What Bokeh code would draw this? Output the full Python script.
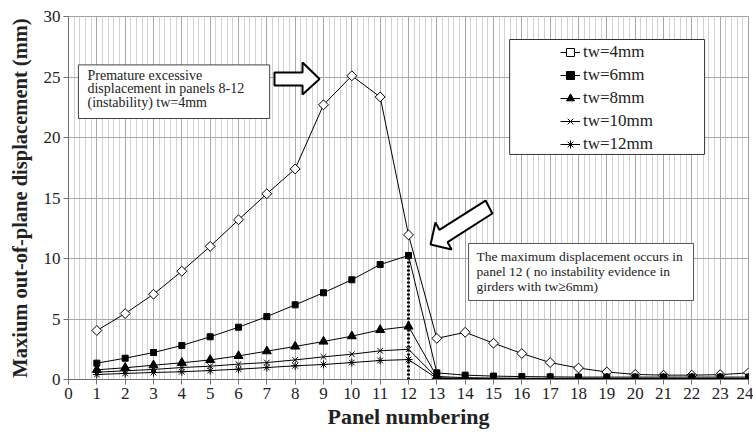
import math
from bokeh.plotting import figure
from bokeh.models import (FixedTicker, Legend, LegendItem, Label, PolyAnnotation,
                          BoxAnnotation, Range1d)
from bokeh.embed import file_html
from bokeh.resources import INLINE

# ---------------- data ----------------
panels = list(range(1, 25))
x_ticks = list(range(0, 25))
y_ticks = [0, 5, 10, 15, 20, 25, 30]

tw4 = [4.05, 5.45, 7.05, 8.95, 11.0, 13.2, 15.35, 17.4, 22.7, 25.1, 23.35, 11.95,
       3.4, 3.9, 3.0, 2.15, 1.4, 0.95, 0.62, 0.42, 0.36, 0.36, 0.4, 0.55]
tw6 = [1.35, 1.76, 2.23, 2.81, 3.53, 4.32, 5.2, 6.17, 7.17, 8.24, 9.5, 10.25,
       0.55, 0.36, 0.28, 0.24, 0.22, 0.2, 0.2, 0.2, 0.2, 0.2, 0.2, 0.2]
tw8 = [0.8, 0.97, 1.18, 1.38, 1.62, 1.95, 2.34, 2.73, 3.14, 3.58, 4.1, 4.38,
       0.25, 0.15, 0.12, 0.1, 0.1, 0.1, 0.1, 0.1, 0.1, 0.1, 0.1, 0.1]
tw10 = [0.6, 0.72, 0.83, 0.99, 1.1, 1.27, 1.4, 1.62, 1.87, 2.09, 2.37, 2.5,
        0.15, 0.08, 0.07, 0.06, 0.06, 0.06, 0.06, 0.06, 0.06, 0.06, 0.06, 0.06]
tw12 = [0.41, 0.5, 0.58, 0.64, 0.74, 0.85, 0.99, 1.13, 1.24, 1.4, 1.57, 1.65,
        0.1, 0.05, 0.04, 0.04, 0.04, 0.04, 0.04, 0.04, 0.04, 0.04, 0.04, 0.04]
series_labels = ["tw=4mm", "tw=6mm", "tw=8mm", "tw=10mm", "tw=12mm"]

note1 = ["Premature excessive", "displacement in panels 8-12", "(instability) tw=4mm"]
note2 = ["The maximum displacement occurs in", "panel 12 ( no instability evidence in",
         "girders with tw\u22656mm)"]

SERIF = "'Liberation Serif', 'Times New Roman', serif"

p = figure(width=753, height=435, output_backend="svg", toolbar_location=None,
           x_range=Range1d(0, 24), y_range=Range1d(0, 30),
           min_border_left=68, min_border_right=5, min_border_top=16, min_border_bottom=56)
p.background_fill_color = "white"
p.border_fill_color = "white"
p.outline_line_color = "#a0a0a0"

minor = [i / 5 for i in range(0, 121) if i % 5 != 0]
p.xaxis.ticker = FixedTicker(ticks=x_ticks, minor_ticks=minor)
p.yaxis.ticker = FixedTicker(ticks=y_ticks)

for ax in (p.xaxis[0], p.yaxis[0]):
    ax.major_label_text_font = SERIF
    ax.major_label_text_font_size = "17px"
    ax.major_label_text_color = "#222222"
    ax.axis_label_text_font = SERIF
    ax.axis_label_text_font_style = "bold"
    ax.axis_label_text_color = "#222222"
    ax.axis_line_color = "#707070"
    ax.major_tick_line_color = "#707070"
    ax.major_tick_out = 5
    ax.major_tick_in = 0
    ax.minor_tick_line_color = None

p.xaxis.axis_label = "Panel numbering"
p.xaxis.axis_label_text_font_size = "22px"
p.xaxis.axis_label_standoff = 2
p.xaxis.major_label_standoff = 3
p.yaxis.axis_label = "Maxium out-of-plane displacement (mm)"
p.yaxis.axis_label_text_font_size = "20.5px"
p.yaxis.axis_label_standoff = 10
p.yaxis.major_label_standoff = 3

p.xgrid.grid_line_color = "#a8a8a8"
p.xgrid.minor_grid_line_color = "#d2d2d2"
p.ygrid.grid_line_color = "#a8a8a8"

# dotted line at panel 12
p.segment(x0=[panels[11]], y0=[0], x1=[panels[11]], y1=[tw6[11]],
          line_color="black", line_width=3, line_dash="2 2")

renderers = []
specs = [
    (tw4, dict(marker="square", size=7, angle=math.pi / 4, fill_color="white")),
    (tw6, dict(marker="square", size=6, fill_color="black")),
    (tw8, dict(marker="triangle", size=9, fill_color="black")),
    (tw10, dict(marker="x", size=8, fill_color="black")),
    (tw12, dict(marker="asterisk", size=8, fill_color="black")),
]
for vals, sp in specs:
    ln = p.line(panels, vals, line_color="black", line_width=1)
    sc = p.scatter(panels, vals, line_color="black", line_width=1, **sp)
    renderers.append([ln, sc])

# legend frame
p.add_layout(BoxAnnotation(left=15.57, right=22.45, top=28.1, bottom=18.6,
                           fill_color="white", fill_alpha=1.0,
                           line_color="#333333", line_alpha=1.0, line_width=1,
                           level="overlay"))
legend = Legend(items=[LegendItem(label=l, renderers=r) for l, r in zip(series_labels, renderers)],
                location=(489, 222), orientation="vertical",
                label_text_font=SERIF, label_text_font_size="17px", label_text_color="#222222",
                glyph_width=20, glyph_height=20, label_height=20, label_standoff=3,
                spacing=3, padding=3, margin=0,
                border_line_alpha=0, background_fill_alpha=0)
p.add_layout(legend)

# annotation boxes
p.add_layout(BoxAnnotation(left=0.35, right=7.1, top=26.0, bottom=21.57,
                           fill_color="white", fill_alpha=1.0,
                           line_color="#444444", line_alpha=1.0, line_width=1,
                           level="overlay"))
p.add_layout(BoxAnnotation(left=14.12, right=22.06, top=11.24, bottom=6.53,
                           fill_color="white", fill_alpha=1.0,
                           line_color="#555555", line_alpha=1.0, line_width=1,
                           level="overlay"))
for i, t in enumerate(note1):
    p.add_layout(Label(x=0.67, y=25.15 - i * 1.12, text=t, text_font=SERIF,
                       text_font_size="14px", text_baseline="middle", text_color="#222222",
                       level="overlay"))
for i, t in enumerate(note2):
    p.add_layout(Label(x=14.4, y=10.2 - i * 1.27, text=t, text_font=SERIF,
                       text_font_size="13.5px", text_baseline="middle", text_color="#222222",
                       level="overlay"))

# block arrows
p.add_layout(PolyAnnotation(xs=[7.27, 8.26, 8.26, 8.86, 8.26, 8.26, 7.27],
                            ys=[25.37, 25.37, 26.2, 24.83, 23.55, 24.3, 24.3],
                            fill_color="white", fill_alpha=1.0,
                            line_color="black", line_alpha=1.0, line_width=2,
                            level="overlay"))
p.add_layout(PolyAnnotation(xs=[12.78, 13.52, 13.38, 14.96, 14.72, 13.09, 12.95],
                            ys=[11.16, 10.74, 11.35, 13.72, 14.79, 12.37, 12.98],
                            fill_color="white", fill_alpha=1.0,
                            line_color="black", line_alpha=1.0, line_width=2,
                            level="overlay"))

open("out.html", "w").write(file_html(p, INLINE))
